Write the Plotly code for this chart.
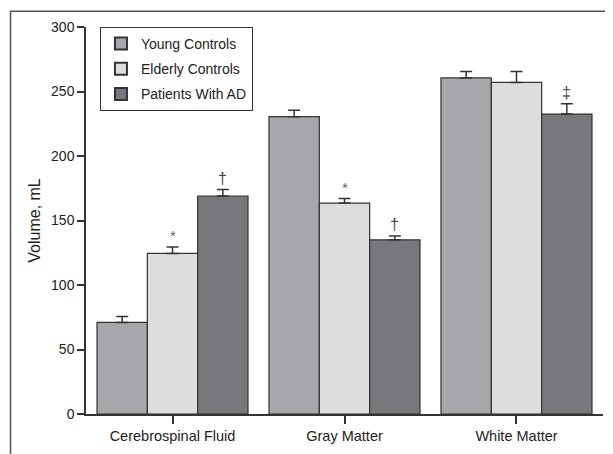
import plotly.graph_objects as go

categories = ["Cerebrospinal Fluid", "Gray Matter", "White Matter"]
series_names = ["Young Controls", "Elderly Controls", "Patients With AD"]
young = [71, 230.5, 260.5]
young_err = [4.5, 5, 5]
elderly = [124.5, 163.5, 257]
elderly_err = [5, 3.5, 8.5]
patients = [169, 135, 232.5]
patients_err = [5, 3, 8]
# significance markers (category index, series index, symbol)
marks = [(0, 1, "*"), (0, 2, "†"), (1, 1, "*"), (1, 2, "†"), (2, 2, "‡")]
y_ticks = [0, 50, 100, 150, 200, 250, 300]

colors = ["#a7a8ab", "#dcdddf", "#77787c"]
values = [young, elderly, patients]
errors = [young_err, elderly_err, patients_err]
FONT = "Liberation Sans Narrow, Arial Narrow, Liberation Sans, sans-serif"

bargap = 0.122
fig = go.Figure()
for name, vals, errs, col in zip(series_names, values, errors, colors):
    fig.add_trace(go.Bar(
        name=name, x=categories, y=vals, legendgroup=name,
        marker=dict(color=col, line=dict(color="#333333", width=1.2)),
        error_y=dict(type="data", array=errs, symmetric=False, arrayminus=[0]*len(errs),
                     color="#333333", thickness=1.5, width=6),
    ))

bw = (1 - bargap) / len(series_names)
annotations = []
for ci, si, sym in marks:
    xpos = ci + (si - (len(series_names) - 1) / 2) * bw
    top = values[si][ci] + errors[si][ci]
    annotations.append(dict(
        x=xpos, y=top, xref="x", yref="y", text=sym, showarrow=False,
        yanchor="bottom", yshift=1,
        font=dict(family=FONT, size=16 if sym != "*" else 15,
                  color="#444444" if sym != "*" else "#666666"),
    ))

# page body has an 8px margin; figure sized so that it fits the 613x454 window
fig.update_layout(
    width=605, height=446,
    margin=dict(l=78, r=10, t=19, b=40, autoexpand=False),
    paper_bgcolor="white", plot_bgcolor="white",
    barmode="group", bargap=bargap, bargroupgap=0,
    font=dict(family=FONT, size=14, color="#222222"),
    showlegend=True,
    legend=dict(x=0.027, y=1.0, xanchor="left", yanchor="top",
                bordercolor="#333333", borderwidth=1, bgcolor="white",
                font=dict(family=FONT, size=14, color="#222222"),
                itemsizing="constant", tracegroupgap=4, traceorder="grouped"),
    annotations=annotations,
    shapes=[dict(type="rect", xref="paper", yref="paper",
                 x0=-0.146, x1=1.2, y0=-0.3, y1=1.041,
                 line=dict(color="#555555", width=1.5), fillcolor="rgba(0,0,0,0)", layer="below")],
)
fig.update_xaxes(
    range=[-0.503, 2.503], showline=True, linecolor="#333333", linewidth=1.5,
    ticks="outside", ticklen=8, tickcolor="#333333", tickwidth=1.5,
    showgrid=False, zeroline=False, automargin=False,
    tickfont=dict(family=FONT, size=14.5, color="#222222"),
)
fig.update_yaxes(
    range=[0, 300], tickvals=y_ticks, showline=True, linecolor="#333333", linewidth=1.5,
    ticks="outside", ticklen=7, tickcolor="#333333", tickwidth=1.5,
    showgrid=False, zeroline=False, automargin=False,
    title=dict(text="Volume, mL", standoff=6, font=dict(family=FONT, size=16, color="#222222")),
    tickfont=dict(family=FONT, size=14, color="#222222"),
)
fig.write_html("out.html")
